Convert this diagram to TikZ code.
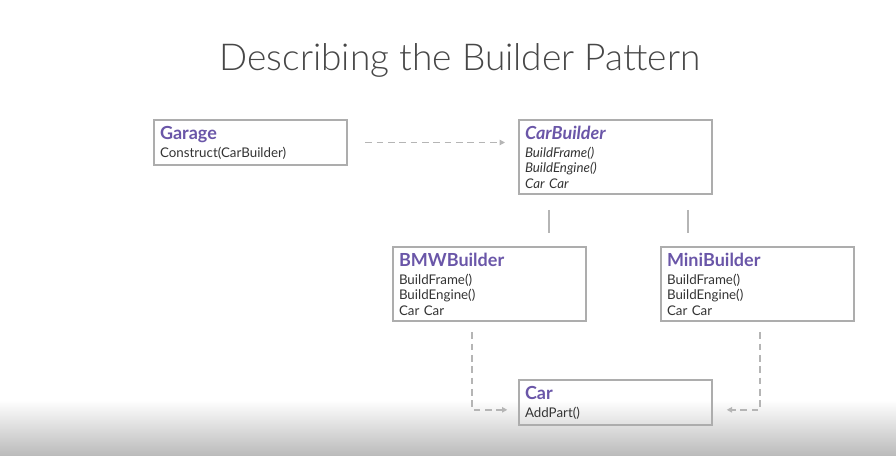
\documentclass[tikz,border=0pt]{standalone}
\usepackage{fontspec}
\setmainfont{Lato}
\newfontfamily\titlefont{Lato Light}
\usetikzlibrary{arrows.meta}
\definecolor{head}{HTML}{6A56A8}
\definecolor{frame}{HTML}{ADADAD}
\definecolor{link}{HTML}{B5B5B5}
\definecolor{ink}{HTML}{333333}
\newcommand{\boxhead}[1]{{\color{head}\bfseries\fontsize{13.5}{14}\selectfont #1}\\[1.8pt]}

\begin{document}
\begin{tikzpicture}[x=0.75pt, y=-0.75pt,
  box/.style={draw=frame, line width=1.5pt, anchor=north west, align=left,
    minimum width=145pt, text width=136pt, inner xsep=4pt, inner ysep=4.5pt,
    font=\fontsize{10}{11.6}\selectfont, text=ink},
  dashlink/.style={draw=link, line width=1.3pt, dash pattern=on 5pt off 3.5pt,
    -{Triangle[length=4pt,width=4pt]}},
  solidlink/.style={draw=link, line width=1.5pt}]
\useasboundingbox (0,0) rectangle (896,456);
\shade[top color=white, bottom color=black!27] (0,400) rectangle (896,456);

\node[text=ink!90] (title) at (460,60) {\titlefont\fontsize{27.8}{34}\selectfont Describing the Builder Pattern};

\node[box] (garage) at (153,119) {\boxhead{Garage}Construct(CarBuilder)};
\node[box] (carbuilder) at (518,119) {\boxhead{\itshape CarBuilder}\itshape BuildFrame()\\\itshape BuildEngine()\\\itshape Car Car};
\node[box] (bmw) at (392,246) {\boxhead{BMWBuilder}BuildFrame()\\BuildEngine()\\Car Car};
\node[box] (mini) at (660,246) {\boxhead{MiniBuilder}BuildFrame()\\BuildEngine()\\Car Car};
\node[box] (car) at (518,379) {\boxhead{Car}AddPart()};

\coordinate (left) at (549,0);
\coordinate (right) at (688,0);
\coordinate (bmwout) at (472,0);
\coordinate (miniout) at (760,0);

\draw[dashlink, shorten <=12.75pt, shorten >=9.75pt] (garage.east) -- (garage.east -| carbuilder.west);
\draw[solidlink, shorten <=11pt, shorten >=10pt] (carbuilder.south -| left) -- (bmw.north -| left);
\draw[solidlink, shorten <=11pt, shorten >=10pt] (carbuilder.south -| right) -- (mini.north -| right);
\draw[dashlink, shorten <=7.5pt, shorten >=8pt] (bmw.south -| bmwout) |- ([yshift=-5.5pt]car.west);
\draw[dashlink, shorten <=7.5pt, shorten >=10pt] (mini.south -| miniout) |- ([yshift=-5.5pt]car.east);
\end{tikzpicture}
\end{document}
